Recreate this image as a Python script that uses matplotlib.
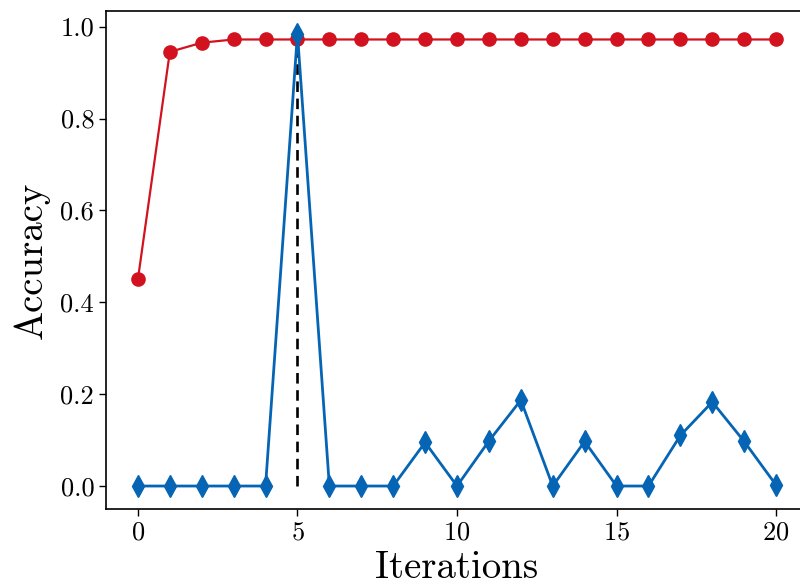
import numpy as np
import matplotlib
matplotlib.use('Agg')
import matplotlib.pyplot as plt

# data
iterations = list(range(21))
train_acc = [0.45, 0.945, 0.965, 0.972, 0.972, 0.972, 0.972, 0.972, 0.972, 0.972, 0.972,
             0.972, 0.972, 0.972, 0.972, 0.972, 0.972, 0.972, 0.972, 0.972, 0.972]
test_acc = [0.0, 0.0, 0.0, 0.0, 0.0, 0.985, 0.0, 0.0, 0.0, 0.095, 0.0,
            0.098, 0.187, 0.0, 0.097, 0.0, 0.0, 0.11, 0.183, 0.097, 0.002]
best_iter = 5

plt.rcParams['font.family'] = ['cmr10', 'DejaVu Serif']
plt.rcParams['axes.formatter.use_mathtext'] = True
plt.rcParams['mathtext.fontset'] = 'cm'

fig = plt.figure(figsize=(8.0, 5.87), dpi=100)
# axes run past the right edge, as in the reference crop
ax = fig.add_axes([106 / 800, 78 / 587, 702 / 800, 498 / 587])

red = '#d2121e'
blue = '#0565b4'

ax.vlines(best_iter, 0, train_acc[best_iter], colors='black', linestyles=(0, (4, 2.5)), linewidth=1.9, zorder=1)
ax.plot(iterations, train_acc, color=red, marker='o', markersize=9.5, linewidth=1.6, zorder=2)
ax.plot(iterations, test_acc, color=blue, marker='d', markersize=11, linewidth=2.0, zorder=3)

ax.set_xlim(-1, 21)
ax.set_ylim(-0.05, 1.034)
ax.set_xticks([0, 5, 10, 15, 20])
ax.set_yticks([0.0, 0.2, 0.4, 0.6, 0.8, 1.0])
ax.set_yticklabels(['0.0', '0.2', '0.4', '0.6', '0.8', '1.0'])
ax.tick_params(labelsize=19, length=5, width=1)
ax.set_xlabel('Iterations', fontsize=28, labelpad=4)
ax.set_ylabel('Accuracy', fontsize=28, labelpad=8)
for s in ax.spines.values():
    s.set_linewidth(1.2)
ax.spines['right'].set_visible(False)

fig.savefig('out.png', dpi=100)
